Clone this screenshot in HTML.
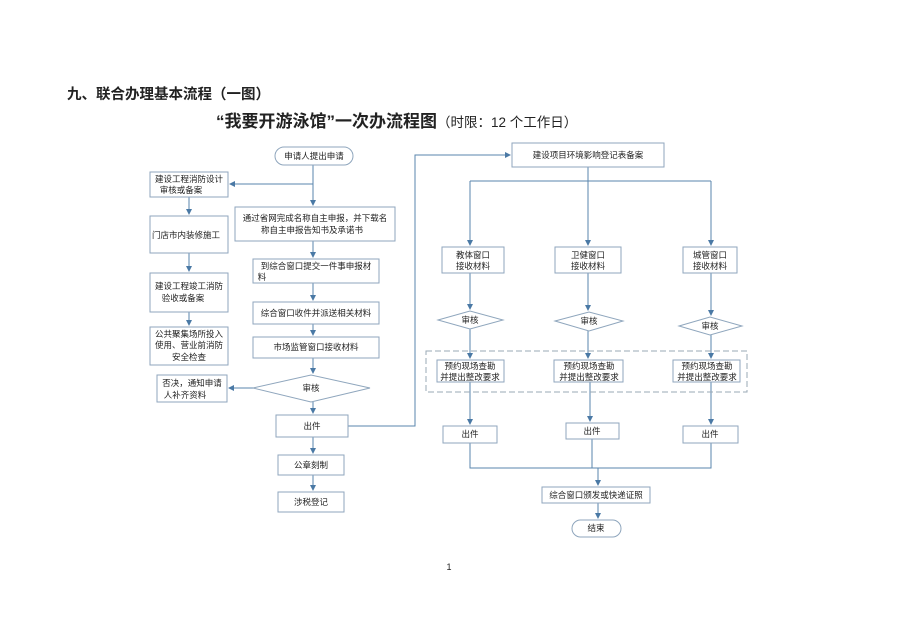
<!DOCTYPE html>
<html><head><meta charset="utf-8"><style>
html,body{margin:0;padding:0;background:#fff}
svg{display:block}
text{font-family:"Liberation Sans","Noto Sans CJK SC",sans-serif;fill:#222}
.b{fill:#fff;stroke:#8fa6bd;stroke-width:1}
.l{fill:none;stroke:#5a86ad;stroke-width:1}
.t{font-size:8.5px;text-anchor:middle}
</style></head><body>
<svg width="898" height="634" viewBox="0 0 898 634" xmlns="http://www.w3.org/2000/svg">
<defs><marker id="a" markerWidth="6" markerHeight="6" refX="5" refY="3" orient="auto" markerUnits="userSpaceOnUse"><path d="M0,0 L6,3 L0,6 z" fill="#4a79a5"/></marker></defs>
<text x="67" y="99" style="font-size:14.5px;font-weight:bold">九、联合办理基本流程（一图）</text>
<text x="216" y="127" style="font-size:17px;font-weight:bold">“我要开游泳馆”一次办流程图<tspan style="font-size:13.5px;font-weight:normal">（时限：12 个工作日）</tspan></text>

<g class="l">
<path d="M313,165 V205" marker-end="url(#a)"/>
<path d="M313,184 H230" marker-end="url(#a)"/>
<path d="M189,197 V214" marker-end="url(#a)"/>
<path d="M189,253 V271" marker-end="url(#a)"/>
<path d="M189,312 V325" marker-end="url(#a)"/>
<path d="M313,241 V257" marker-end="url(#a)"/>
<path d="M313,283 V300" marker-end="url(#a)"/>
<path d="M313,324 V335" marker-end="url(#a)"/>
<path d="M313,358 V373" marker-end="url(#a)"/>
<path d="M253,388 H229" marker-end="url(#a)"/>
<path d="M313,402 V413" marker-end="url(#a)"/>
<path d="M313,437 V453" marker-end="url(#a)"/>
<path d="M313,475 V490" marker-end="url(#a)"/>
<path d="M348,426 H415 V155 H510" marker-end="url(#a)"/>
</g>
<rect class="b" x="275" y="147" width="78" height="18" rx="9"/>
<text class="t" x="314" y="159">申请人提出申请</text>
<rect class="b" x="150" y="172" width="78" height="25"/>
<text class="t" x="189" y="182">建设工程消防设计</text><text class="t" x="181" y="193">审核或备案</text>
<rect class="b" x="235" y="207" width="160" height="34"/>
<text class="t" x="315" y="221">通过省网完成名称自主申报，并下载名</text><text class="t" x="312" y="233">称自主申报告知书及承诺书</text>
<rect class="b" x="150" y="216" width="78" height="37"/>
<text class="t" x="186" y="238">门店市内装修施工</text>
<rect class="b" x="253" y="259" width="126" height="24"/>
<text class="t" x="316" y="269">到综合窗口提交一件事申报材</text><text class="t" x="262" y="280">料</text>
<rect class="b" x="150" y="273" width="78" height="39"/>
<text class="t" x="189" y="289">建设工程竣工消防</text><text class="t" x="183" y="301">验收或备案</text>
<rect class="b" x="253" y="302" width="126" height="22"/>
<text class="t" x="316" y="316">综合窗口收件并派送相关材料</text>
<rect class="b" x="150" y="327" width="78" height="38"/>
<text class="t" x="189" y="337">公共聚集场所投入</text><text class="t" x="189" y="348">使用、营业前消防</text><text class="t" x="189" y="360">安全检查</text>
<rect class="b" x="253" y="337" width="126" height="21"/>
<text class="t" x="316" y="350">市场监管窗口接收材料</text>
<path class="b" d="M253,388 L311,375 L370,388 L311,402 z"/>
<text class="t" x="311" y="391">审核</text>
<rect class="b" x="157" y="375" width="70" height="27"/>
<text class="t" x="192" y="386">否决，通知申请</text><text class="t" x="185" y="398">人补齐资料</text>
<rect class="b" x="276" y="415" width="72" height="22"/>
<text class="t" x="312" y="429">出件</text>
<rect class="b" x="278" y="455" width="66" height="20"/>
<text class="t" x="311" y="468">公章刻制</text>
<rect class="b" x="278" y="492" width="66" height="20"/>
<text class="t" x="311" y="505">涉税登记</text>

<g class="l">
<path d="M588,167 V181"/>
<path d="M470,181 H711"/>
<path d="M470,181 V245" marker-end="url(#a)"/>
<path d="M588,181 V245" marker-end="url(#a)"/>
<path d="M711,181 V245" marker-end="url(#a)"/>
<path d="M470,273 V309" marker-end="url(#a)"/>
<path d="M588,273 V310" marker-end="url(#a)"/>
<path d="M711,273 V315" marker-end="url(#a)"/>
<path d="M470,329 V358" marker-end="url(#a)"/>
<path d="M588,331 V358" marker-end="url(#a)"/>
<path d="M711,335 V358" marker-end="url(#a)"/>
<path d="M470,382 V424" marker-end="url(#a)"/>
<path d="M590,382 V421" marker-end="url(#a)"/>
<path d="M711,382 V424" marker-end="url(#a)"/>
<path d="M470,443 V468 H711 V443"/>
<path d="M592,439 V468"/>
<path d="M598,468 V485" marker-end="url(#a)"/>
<path d="M598,503 V518" marker-end="url(#a)"/>
</g>
<rect x="426" y="351" width="321" height="41" fill="none" stroke="#9aa8b5" stroke-dasharray="6,3"/>
<rect class="b" x="512" y="143" width="152" height="24"/>
<text class="t" x="588" y="158">建设项目环境影响登记表备案</text>
<rect class="b" x="442" y="247" width="62" height="26"/>
<text class="t" x="473" y="258">教体窗口</text><text class="t" x="473" y="269">接收材料</text>
<rect class="b" x="555" y="247" width="66" height="26"/>
<text class="t" x="588" y="258">卫健窗口</text><text class="t" x="588" y="269">接收材料</text>
<rect class="b" x="683" y="247" width="54" height="26"/>
<text class="t" x="710" y="258">城管窗口</text><text class="t" x="710" y="269">接收材料</text>
<path class="b" d="M438,320 L470,311 L503,320 L470,329 z"/><text class="t" x="470" y="323">审核</text>
<path class="b" d="M555,321 L589,312 L623,321 L589,331 z"/><text class="t" x="589" y="324">审核</text>
<path class="b" d="M679,326 L710,317 L742,326 L710,335 z"/><text class="t" x="710" y="329">审核</text>
<rect class="b" x="437" y="360" width="67" height="22"/>
<text class="t" x="470" y="369">预约现场查勘</text><text class="t" x="470" y="380">并提出整改要求</text>
<rect class="b" x="554" y="360" width="69" height="22"/>
<text class="t" x="589" y="369">预约现场查勘</text><text class="t" x="589" y="380">并提出整改要求</text>
<rect class="b" x="673" y="360" width="67" height="22"/>
<text class="t" x="707" y="369">预约现场查勘</text><text class="t" x="707" y="380">并提出整改要求</text>
<rect class="b" x="443" y="426" width="54" height="17"/><text class="t" x="470" y="437">出件</text>
<rect class="b" x="566" y="423" width="53" height="16"/><text class="t" x="592" y="434">出件</text>
<rect class="b" x="683" y="426" width="55" height="17"/><text class="t" x="710" y="437">出件</text>
<rect class="b" x="542" y="487" width="108" height="16"/>
<text class="t" x="596" y="498">综合窗口颁发或快递证照</text>
<rect class="b" x="572" y="520" width="49" height="17" rx="8.5"/>
<text class="t" x="596" y="531">结束</text>
<text x="449" y="570" style="font-size:9px;text-anchor:middle">1</text>
</svg>
</body></html>
